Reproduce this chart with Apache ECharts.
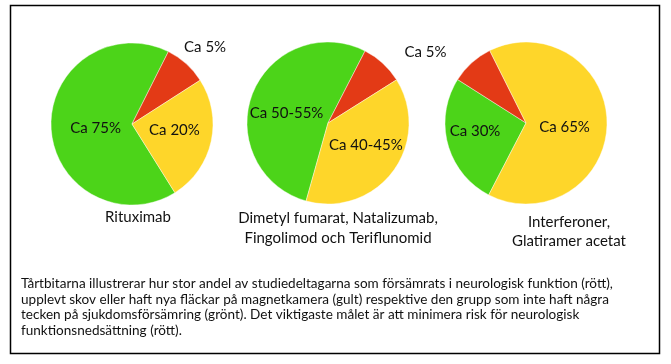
<!DOCTYPE html>
<html>
<head>
<meta charset="utf-8">
<script src="https://cdn.jsdelivr.net/npm/echarts@6/dist/echarts.min.js"></script>
<style>
html,body{margin:0;padding:0;background:#fff;}
#c{width:671px;height:364px;}
</style>
</head>
<body>
<div id="c"></div>
<script>
// Slice order in every pie: green (ingen försämring), red (neurologisk försämring), yellow (skov/fläckar)
const categories = ['Ingen försämring (grönt)', 'Försämrad neurologisk funktion (rött)', 'Skov eller nya fläckar (gult)'];
// Slice sizes (percent of circle) as drawn in the picture
const rituximabValues = [66.3, 8.5, 25.2];
const dmfGroupValues = [53.2, 8.5, 38.3];
const interferonValues = [26.4, 8.6, 65.0];
// Slice labels as written in the picture
const rituximabLabels = ['Ca 75%', 'Ca 5%', 'Ca 20%'];
const dmfGroupLabels = ['Ca 50-55%', 'Ca 5%', 'Ca 40-45%'];
const interferonLabels = ['Ca 30%', '', 'Ca 65%'];
// Pie captions
const pieTitles = ['Rituximab', 'Dimetyl fumarat, Natalizumab,\nFingolimod och Teriflunomid', 'Interferoner,\nGlatiramer acetat'];
const captionLines = [
  'Tårtbitarna illustrerar hur stor andel av studiedeltagarna som försämrats i neurologisk funktion (rött),',
  'upplevt skov eller haft nya fläckar på magnetkamera (gult) respektive den grupp som inte haft några',
  'tecken på sjukdomsförsämring (grönt). Det viktigaste målet är att minimera risk för neurologisk',
  'funktionsnedsättning (rött).'
];

const colors = ['#4cd419', '#e33a16', '#fed62a'];
const FONT = 'Lato';

function makePie(values, labels, center, startAngle, offsets) {
  return {
    type: 'pie',
    center: center,
    radius: 81,
    startAngle: startAngle,
    clockwise: true,
    silent: true,
    animation: false,
    labelLine: { show: false },
    itemStyle: { borderColor: 'rgba(255,255,255,0.7)', borderWidth: 0.6 },
    data: values.map((v, i) => ({
      name: categories[i],
      value: v,
      itemStyle: { color: colors[i] },
      label: {
        show: labels[i] !== '',
        position: 'inside',
        formatter: labels[i],
        offset: offsets[i],
        color: '#111',
        fontFamily: FONT,
        fontSize: 15
      }
    }))
  };
}

const chart = echarts.init(document.getElementById('c'), null, { renderer: 'canvas' });
chart.setOption({
  backgroundColor: '#fff',
  animation: false,
  title: [
    { text: pieTitles[0], left: 133, top: 202, textAlign: 'center',
      textStyle: { fontFamily: FONT, fontSize: 15, fontWeight: 'normal', color: '#111', lineHeight: 20 } },
    { text: pieTitles[1], left: 333, top: 203, textAlign: 'center',
      textStyle: { fontFamily: FONT, fontSize: 15, fontWeight: 'normal', color: '#111', lineHeight: 20 } },
    { text: pieTitles[2], left: 564, top: 208, textAlign: 'center',
      textStyle: { fontFamily: FONT, fontSize: 15, fontWeight: 'normal', color: '#111', lineHeight: 19 } }
  ],
  series: [
    makePie(rituximabValues, rituximabLabels, [132, 124], -58, [[7, 2], [44, -45], [0, -3]]),
    makePie(dmfGroupValues, dmfGroupLabels, [328, 123], -105.7, [[-1, 6], [68, -39], [3, -4]]),
    makePie(interferonValues, interferonLabels, [526, 123], -117.4, [[-9, -3], [0, 0], [-5, 4]])
  ],
  graphic: [
    { type: 'rect', shape: { x: 10.5, y: 5.5, width: 649, height: 348 },
      style: { fill: 'none', stroke: '#000', lineWidth: 1.5 }, silent: true },
    { type: 'text', left: 21, top: 276,
      style: { text: captionLines.join('\n'), fontFamily: FONT, fontSize: 13.55, lineHeight: 15.6, fill: '#111' }, silent: true }
  ]
});
</script>
</body>
</html>
